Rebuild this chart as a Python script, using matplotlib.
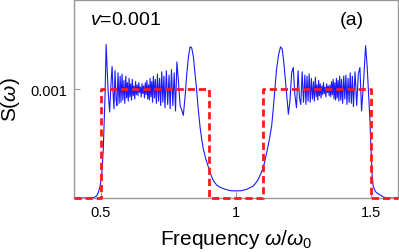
import matplotlib
matplotlib.use("Agg")
import matplotlib.pyplot as plt

plt.rcParams['font.family'] = ['Liberation Sans', 'DejaVu Sans']
plt.rcParams['mathtext.fontset'] = 'custom'
plt.rcParams['mathtext.rm'] = 'Liberation Sans'
plt.rcParams['mathtext.it'] = 'Liberation Sans:italic'

# ideal (flat) spectral density, in units of 1e-3
ideal_w = [0.4, 0.5, 0.5, 0.9, 0.9, 1.1, 1.1, 1.5, 1.5, 1.6]
ideal_s = [0.0, 0.0, 1.0, 1.0, 0.0, 0.0, 1.0, 1.0, 0.0, 0.0]

# computed spectral density (units of 1e-3)
left_w = [0.40, 0.46, 0.475, 0.484, 0.49, 0.496, 0.5025, 0.5085, 0.515, 0.519,
          0.526, 0.532, 0.537, 0.541, 0.545, 0.548, 0.552, 0.556, 0.559, 0.563,
          0.567, 0.571, 0.574, 0.578, 0.581, 0.585, 0.588, 0.592, 0.595, 0.598,
          0.601, 0.604, 0.607, 0.610, 0.613, 0.616, 0.619, 0.622, 0.625, 0.628,
          0.631, 0.634, 0.637, 0.640, 0.643, 0.646, 0.649, 0.652, 0.655, 0.658,
          0.661, 0.664, 0.667, 0.670, 0.673, 0.676, 0.679, 0.682, 0.685, 0.688,
          0.691, 0.694, 0.698, 0.701, 0.705, 0.709, 0.713, 0.717, 0.721, 0.725,
          0.729, 0.733, 0.737, 0.742, 0.747, 0.752, 0.756, 0.761, 0.766, 0.771,
          0.776, 0.781, 0.786, 0.793, 0.800, 0.805, 0.812, 0.818, 0.824, 0.830,
          0.836, 0.842, 0.848, 0.854, 0.860, 0.867, 0.873, 0.879, 0.888, 0.897,
          0.906, 0.916, 0.928, 0.94, 0.96, 0.98, 1.0]
left_s = [0.0, 0.0, 0.005, 0.02, 0.05, 0.10, 0.20, 0.45, 0.95, 1.41,
          1.00, 0.79, 1.05, 1.21, 0.95, 0.82, 1.17, 0.90, 0.85, 1.15,
          0.87, 1.12, 0.88, 1.14, 0.90, 1.08, 0.87, 1.12, 0.92, 1.06,
          0.89, 1.10, 0.93, 1.05, 0.90, 1.09, 0.94, 1.03, 0.91, 1.07,
          0.95, 1.04, 0.94, 1.06, 0.97, 1.02, 0.93, 1.05, 0.96, 1.03,
          0.92, 1.06, 0.95, 1.08, 0.91, 1.04, 0.90, 1.10, 0.93, 1.07,
          0.88, 1.12, 0.92, 1.09, 0.87, 1.14, 0.89, 1.10, 0.85, 1.16,
          0.88, 1.12, 0.83, 1.17, 0.86, 1.13, 0.82, 1.18, 0.85, 1.15,
          0.80, 1.25, 1.10, 0.85, 0.80, 0.76, 0.95, 1.15, 1.30, 1.39,
          1.38, 1.30, 1.15, 1.00, 0.82, 0.65, 0.54, 0.45, 0.36, 0.29,
          0.22, 0.16, 0.12, 0.10, 0.08, 0.067, 0.065]

right_w = [1.02, 1.04, 1.064, 1.08, 1.095, 1.105, 1.114, 1.123, 1.132, 1.138,
           1.144, 1.150, 1.158, 1.165, 1.171, 1.177, 1.184, 1.194, 1.200, 1.206,
           1.212, 1.218, 1.224, 1.230, 1.235, 1.240, 1.245, 1.250, 1.255, 1.259,
           1.263, 1.267, 1.271, 1.275, 1.279, 1.283, 1.287, 1.290, 1.294, 1.297,
           1.300, 1.303, 1.306, 1.309, 1.312, 1.315, 1.318, 1.321, 1.324, 1.327,
           1.330, 1.333, 1.336, 1.339, 1.342, 1.345, 1.348, 1.351, 1.354, 1.357,
           1.360, 1.363, 1.366, 1.369, 1.372, 1.375, 1.378, 1.381, 1.384, 1.388,
           1.391, 1.395, 1.399, 1.403, 1.407, 1.411, 1.415, 1.419, 1.423, 1.427,
           1.431, 1.435, 1.441, 1.447, 1.453, 1.459, 1.465, 1.472, 1.480, 1.486,
           1.491, 1.496, 1.500, 1.504, 1.508, 1.516, 1.525, 1.533, 1.545, 1.56,
           1.6]
right_s = [0.067, 0.08, 0.11, 0.16, 0.24, 0.32, 0.42, 0.53, 0.66, 0.82,
           1.00, 1.18, 1.32, 1.39, 1.37, 1.25, 1.05, 0.77, 0.90, 1.15,
           1.20, 0.95, 0.83, 1.17, 0.92, 0.86, 1.16, 0.88, 1.13, 0.86,
           1.12, 0.89, 1.14, 0.88, 1.10, 0.91, 1.07, 0.89, 1.11, 0.93,
           1.04, 0.90, 1.08, 0.94, 1.05, 0.92, 1.03, 0.95, 1.06, 0.96,
           1.02, 0.93, 1.05, 0.97, 1.03, 0.94, 1.04, 0.93, 1.07, 0.95,
           1.09, 0.91, 1.06, 0.90, 1.10, 0.92, 1.08, 0.89, 1.12, 0.90,
           1.09, 0.87, 1.12, 0.91, 1.13, 0.86, 1.10, 0.88, 1.15, 0.87,
           1.12, 0.84, 1.16, 0.85, 1.14, 1.20, 0.80, 1.05, 1.40, 1.20,
           0.95, 0.72, 0.45, 0.22, 0.11, 0.06, 0.04, 0.03, 0.01, 0.0,
           0.0]

x_ticks = [0.5, 1.0, 1.5]
x_tick_labels = ["0.5", "1", "1.5"]


def main():
    fig = plt.figure(figsize=(3.99, 2.53), dpi=100)
    ax = fig.add_axes([74 / 399, 1 - 199 / 253, 324 / 399, 198 / 253])

    w = left_w + right_w
    s = [v * 1e-3 for v in left_s + right_s]
    ax.plot(w, s, color='#1a1aff', lw=0.8)
    ax.plot(ideal_w, [v * 1e-3 for v in ideal_s], color='#ff1a1a', lw=2.0,
            ls=(0, (2.6, 1.4)), clip_on=False, zorder=3)

    ax.set_xlim(0.4, 1.6)
    ax.set_ylim(0, 0.00182)
    ax.set_xticks(x_ticks)
    ax.set_xticklabels(x_tick_labels)
    ax.set_yticks([0.001])
    ax.set_yticklabels(["0.001"])
    ax.tick_params(direction='in', length=4, color='#999999', labelsize=10.5, pad=5)
    for sp in ax.spines.values():
        sp.set_color('#999999')
        sp.set_linewidth(1.0)

    ax.set_xlabel(r"Frequency $\omega/\omega_0$", fontsize=15, labelpad=6)
    ax.set_ylabel(r"S($\omega$)", fontsize=15, labelpad=6)
    ax.text(0.05, 0.88, r"$v$=0.001", transform=ax.transAxes, fontsize=14)
    ax.text(0.82, 0.88, "(a)", transform=ax.transAxes, fontsize=14)

    fig.savefig("out.png", dpi=100)


if __name__ == '__main__':
    main()
